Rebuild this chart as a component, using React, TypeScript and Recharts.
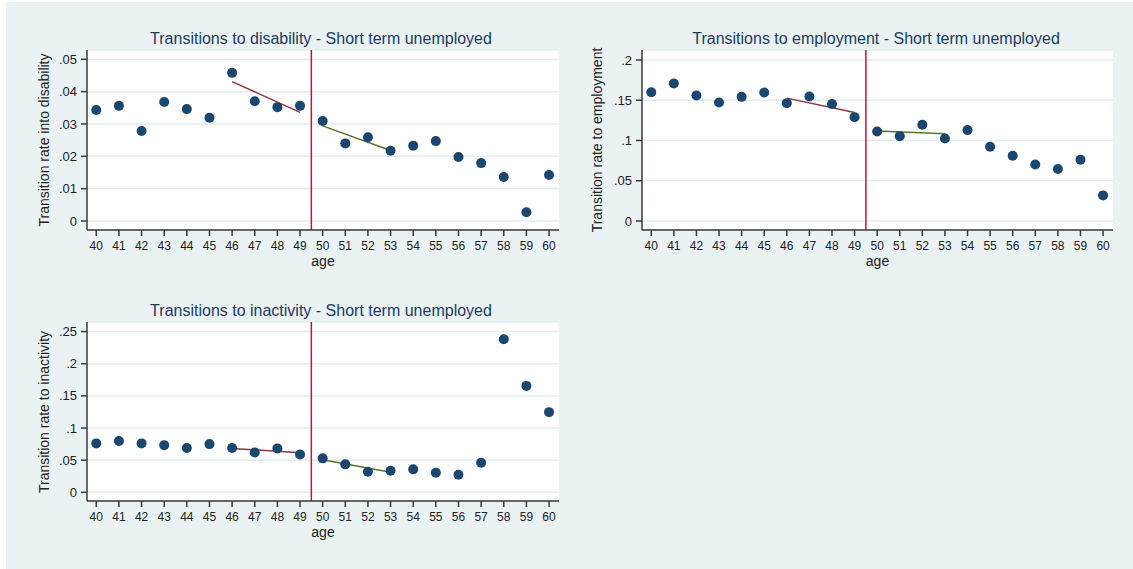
import React from 'react'
import {
  ComposedChart,
  Scatter,
  Line,
  XAxis,
  YAxis,
  CartesianGrid,
  ReferenceLine,
} from 'recharts'

// ages on the horizontal axis
const ages = [40, 41, 42, 43, 44, 45, 46, 47, 48, 49, 50, 51, 52, 53, 54, 55, 56, 57, 58, 59, 60]

// transition rates of the short term unemployed, by age
const disabilityRate = [
  0.0343, 0.0356, 0.0278, 0.0368, 0.0346, 0.0319, 0.0458, 0.037, 0.0352, 0.0356, 0.0309,
  0.024, 0.0259, 0.0217, 0.0233, 0.0247, 0.0198, 0.0179, 0.0136, 0.0027, 0.0142,
]
const employmentRate = [
  0.16, 0.1707, 0.1558, 0.1472, 0.1542, 0.1596, 0.1464, 0.1546, 0.1452, 0.129, 0.1112,
  0.1054, 0.1195, 0.1025, 0.1129, 0.0922, 0.081, 0.0702, 0.0645, 0.0761, 0.0318,
]
const inactivityRate = [
  0.0761, 0.0797, 0.0761, 0.0734, 0.0688, 0.075, 0.0688, 0.0621, 0.0683, 0.059, 0.0528,
  0.0435, 0.032, 0.0336, 0.0357, 0.0304, 0.0273, 0.046, 0.238, 0.1655, 0.1247,
]

// linear fits either side of the age-50 cutoff
const fitAgesBefore = [46, 49]
const fitAgesAfter = [50, 53]
const disabilityFitBefore = [0.0431, 0.0336]
const disabilityFitAfter = [0.0294, 0.0218]
const employmentFitBefore = [0.1526, 0.1347]
const employmentFitAfter = [0.1117, 0.1083]
const inactivityFitBefore = [0.0683, 0.0615]
const inactivityFitAfter = [0.0506, 0.0311]

// y tick values
const disabilityTicks = [0, 0.01, 0.02, 0.03, 0.04, 0.05]
const employmentTicks = [0, 0.05, 0.1, 0.15, 0.2]
const inactivityTicks = [0, 0.05, 0.1, 0.15, 0.2, 0.25]

const FONT = '"Liberation Sans", Arial, Helvetica, sans-serif'
const BG = '#eaf2f3'
const AXIS = '#3a3a3a'
const DOT = '#1a476f'
const CUTOFF = '#c8103f'
const FIT_BEFORE = '#90353b'
const FIT_AFTER = '#55752f'
const TITLE = '#1f3a60'

const fmtRate = (v: number) => (v === 0 ? '0' : String(v).replace(/^0/, ''))

const Dot = (props: any) => <circle cx={props.cx} cy={props.cy} r={5} fill={DOT} />

type PanelProps = {
  left: number
  top: number
  width: number
  height: number
  marginTop: number
  marginRight: number
  marginBottom: number
  yAxisWidth: number
  values: number[]
  fitBefore: number[]
  fitAfter: number[]
  yDomain: [number, number]
  yTicks: number[]
}

function Panel(p: PanelProps) {
  const rows = ages.map((age, i) => ({ age, rate: p.values[i] }))
  const before = fitAgesBefore.map((age, i) => ({ age, fit: p.fitBefore[i] }))
  const after = fitAgesAfter.map((age, i) => ({ age, fit: p.fitAfter[i] }))
  return (
    <div style={{ position: 'absolute', left: p.left, top: p.top }}>
      <ComposedChart
        width={p.width}
        height={p.height}
        data={rows}
        margin={{ top: p.marginTop, right: p.marginRight, bottom: p.marginBottom, left: 0 }}
        style={{ fontFamily: FONT }}
      >
        <CartesianGrid vertical={false} stroke="#e3ecef" strokeWidth={1.5} fill="#ffffff" />
        <XAxis
          type="number"
          dataKey="age"
          domain={[39.59, 60.44]}
          ticks={ages}
          interval={0}
          allowDataOverflow
          height={40}
          tickSize={6}
          tickMargin={5}
          stroke={AXIS}
          strokeWidth={1.5}
          tick={{ fill: '#222', fontSize: 12 }}
          label={{ value: 'age', position: 'insideBottom', offset: 4, fill: '#222', fontSize: 14 }}
        />
        <YAxis
          type="number"
          domain={p.yDomain}
          ticks={p.yTicks}
          allowDataOverflow
          width={p.yAxisWidth}
          tickSize={6}
          tickMargin={4}
          stroke={AXIS}
          strokeWidth={1.5}
          tickFormatter={fmtRate}
          tick={{ fill: '#222', fontSize: 13 }}
        />
        <ReferenceLine x={49.5} stroke={CUTOFF} strokeWidth={1.5} />
        <Line
          data={before}
          dataKey="fit"
          stroke={FIT_BEFORE}
          strokeWidth={1.5}
          dot={false}
          isAnimationActive={false}
        />
        <Line
          data={after}
          dataKey="fit"
          stroke={FIT_AFTER}
          strokeWidth={1.5}
          dot={false}
          isAnimationActive={false}
        />
        <Scatter dataKey="rate" shape={Dot} isAnimationActive={false} />
      </ComposedChart>
    </div>
  )
}

function Title({ x, y, text }: { x: number; y: number; text: string }) {
  return (
    <div
      style={{
        position: 'absolute',
        left: x,
        top: y,
        transform: 'translate(-50%, -50%)',
        whiteSpace: 'nowrap',
        fontFamily: FONT,
        fontSize: 16,
        color: TITLE,
      }}
    >
      {text}
    </div>
  )
}

function YTitle({ x, y, text }: { x: number; y: number; text: string }) {
  return (
    <div
      style={{
        position: 'absolute',
        left: x,
        top: y,
        transform: 'translate(-50%, -50%) rotate(-90deg)',
        whiteSpace: 'nowrap',
        fontFamily: FONT,
        fontSize: 14,
        color: '#222',
      }}
    >
      {text}
    </div>
  )
}

export default function App() {
  return (
    <div style={{ position: 'absolute', left: 0, top: 0, width: 1133, height: 569, background: '#fff' }}>
      <div style={{ position: 'absolute', left: 6, top: 2, width: 1127, height: 567, background: BG }} />

      <Panel
        left={0}
        top={0}
        width={570}
        height={290}
        marginTop={50}
        marginRight={11}
        marginBottom={20}
        yAxisWidth={87}
        values={disabilityRate}
        fitBefore={disabilityFitBefore}
        fitAfter={disabilityFitAfter}
        yDomain={[-0.00278, 0.05287]}
        yTicks={disabilityTicks}
      />
      <Title x={321} y={39} text="Transitions to disability - Short term unemployed" />
      <YTitle x={44} y={140} text="Transition rate into disability" />

      <Panel
        left={570}
        top={0}
        width={563}
        height={290}
        marginTop={50}
        marginRight={20}
        marginBottom={20}
        yAxisWidth={72}
        values={employmentRate}
        fitBefore={employmentFitBefore}
        fitAfter={employmentFitAfter}
        yDomain={[-0.0112, 0.2124]}
        yTicks={employmentTicks}
      />
      <Title x={876} y={39} text="Transitions to employment - Short term unemployed" />
      <YTitle x={597} y={140} text="Transition rate to employment" />

      <Panel
        left={0}
        top={290}
        width={570}
        height={279}
        marginTop={32}
        marginRight={11}
        marginBottom={28}
        yAxisWidth={87}
        values={inactivityRate}
        fitBefore={inactivityFitBefore}
        fitAfter={inactivityFitAfter}
        yDomain={[-0.0135, 0.2649]}
        yTicks={inactivityTicks}
      />
      <Title x={321} y={311} text="Transitions to inactivity - Short term unemployed" />
      <YTitle x={44} y={412} text="Transition rate to inactivity" />
    </div>
  )
}
